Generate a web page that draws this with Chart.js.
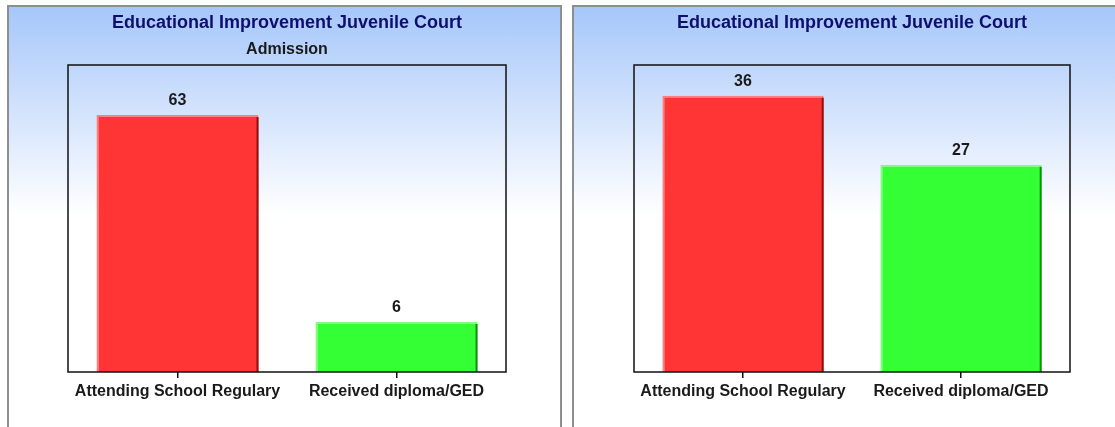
<!DOCTYPE html>
<html>
<head>
<meta charset="utf-8">
<script src="https://cdn.jsdelivr.net/npm/chart.js@4"></script>
<style>
  body { margin: 0; background: #fff; width: 1115px; height: 427px; overflow: hidden; position: relative; }
  .panel {
    position: absolute; top: 5px; height: 440px; box-sizing: border-box;
    border: 2px solid #8e8e8e;
    background: linear-gradient(to bottom, #a6c7fa 0px, #ffffff 208px, #ffffff 100%);
  }
  #p1 { left: 7px; width: 555px; }
  #p2 { left: 572px; width: 560px; }
  canvas { position: absolute; left: 0; top: 0; }
</style>
</head>
<body>
<div class="panel" id="p1"><canvas id="admissionChart" width="550" height="420"></canvas></div>
<div class="panel" id="p2"><canvas id="dischargeChart" width="541" height="420"></canvas></div>
<script>
const categories = ['Attending School Regulary', 'Received diploma/GED'];
const admissionValues = [63, 6];
const secondValues = [36, 27];
const chartTitle = 'Educational Improvement Juvenile Court';
const leftSubtitle = 'Admission';

const fillColors = ['#ff3434', '#34ff34'];
const lightColors = ['#ff7e7e', '#7eff7e'];
const darkColors = ['#8e1010', '#108e10'];
const FONT = "'Liberation Sans', Arial, sans-serif";

// black box round the plot area
const plotBox = {
    id: 'plotBox',
    afterDraw(chart) {
        const a = chart.chartArea, ctx = chart.ctx;
        ctx.save();
        ctx.strokeStyle = '#111';
        ctx.lineWidth = 1.5;
        ctx.strokeRect(a.left, a.top, a.right - a.left, a.bottom - a.top);
        ctx.restore();
    }
};

// dark right edge and value above each bar
const barExtras = {
    id: 'barExtras',
    afterDatasetsDraw(chart) {
        const ctx = chart.ctx;
        const meta = chart.getDatasetMeta(0);
        const values = chart.data.datasets[0].data;
        ctx.save();
        meta.data.forEach((bar, i) => {
            const p = bar.getProps(['x', 'y', 'base', 'width'], true);
            const right = p.x + p.width / 2;
            ctx.strokeStyle = darkColors[i];
            ctx.lineWidth = 2;
            ctx.beginPath();
            ctx.moveTo(right - 1, p.y + 2);
            ctx.lineTo(right - 1, p.base);
            ctx.stroke();
            ctx.fillStyle = '#1a1a1a';
            ctx.font = 'bold 16px ' + FONT;
            ctx.textAlign = 'center';
            ctx.textBaseline = 'middle';
            ctx.fillText(values[i], p.x, p.y - 14);
        });
        ctx.restore();
    }
};

function makeChart(id, values, yMin, yMax, subtitle, pad) {
    const ctx = document.getElementById(id).getContext('2d');
    return new Chart(ctx, {
        type: 'bar',
        data: {
            labels: categories,
            datasets: [{
                data: values,
                base: yMin,
                backgroundColor: fillColors,
                borderColor: lightColors,
                borderWidth: { top: 2, left: 2, right: 0, bottom: 0 },
                borderSkipped: false,
                barPercentage: 0.74,
                categoryPercentage: 1
            }]
        },
        options: {
            responsive: false,
            animation: false,
            layout: { padding: { left: pad.left, right: pad.right, top: 0, bottom: 0 } },
            plugins: {
                legend: { display: false },
                tooltip: { enabled: false },
                title: {
                    display: true,
                    text: chartTitle,
                    color: '#0e0e6e',
                    font: { family: FONT, size: 18, weight: 'bold' },
                    padding: subtitle ? { top: 5, bottom: 6 } : { top: 5, bottom: 31.4 }
                },
                subtitle: {
                    display: !!subtitle,
                    text: subtitle || '',
                    color: '#1a1a1a',
                    font: { family: FONT, size: 16, weight: 'bold' },
                    padding: { top: 0, bottom: 6.2 }
                }
            },
            scales: {
                x: {
                    afterFit: s => { s.height = 55; },
                    grid: { display: true, drawOnChartArea: false, offset: false, tickLength: 6, color: '#111', lineWidth: 1.5 },
                    border: { display: false },
                    ticks: { color: '#1a1a1a', padding: 4, font: { family: FONT, size: 16, weight: 'bold' } }
                },
                y: {
                    display: false,
                    min: yMin,
                    max: yMax
                }
            }
        },
        plugins: [plotBox, barExtras]
    });
}

makeChart('admissionChart', admissionValues, -7.8, 76.8, leftSubtitle, { left: 59, right: 53 });
makeChart('dischargeChart', secondValues, 0, 40, null, { left: 60, right: 45 });
</script>
</body>
</html>
